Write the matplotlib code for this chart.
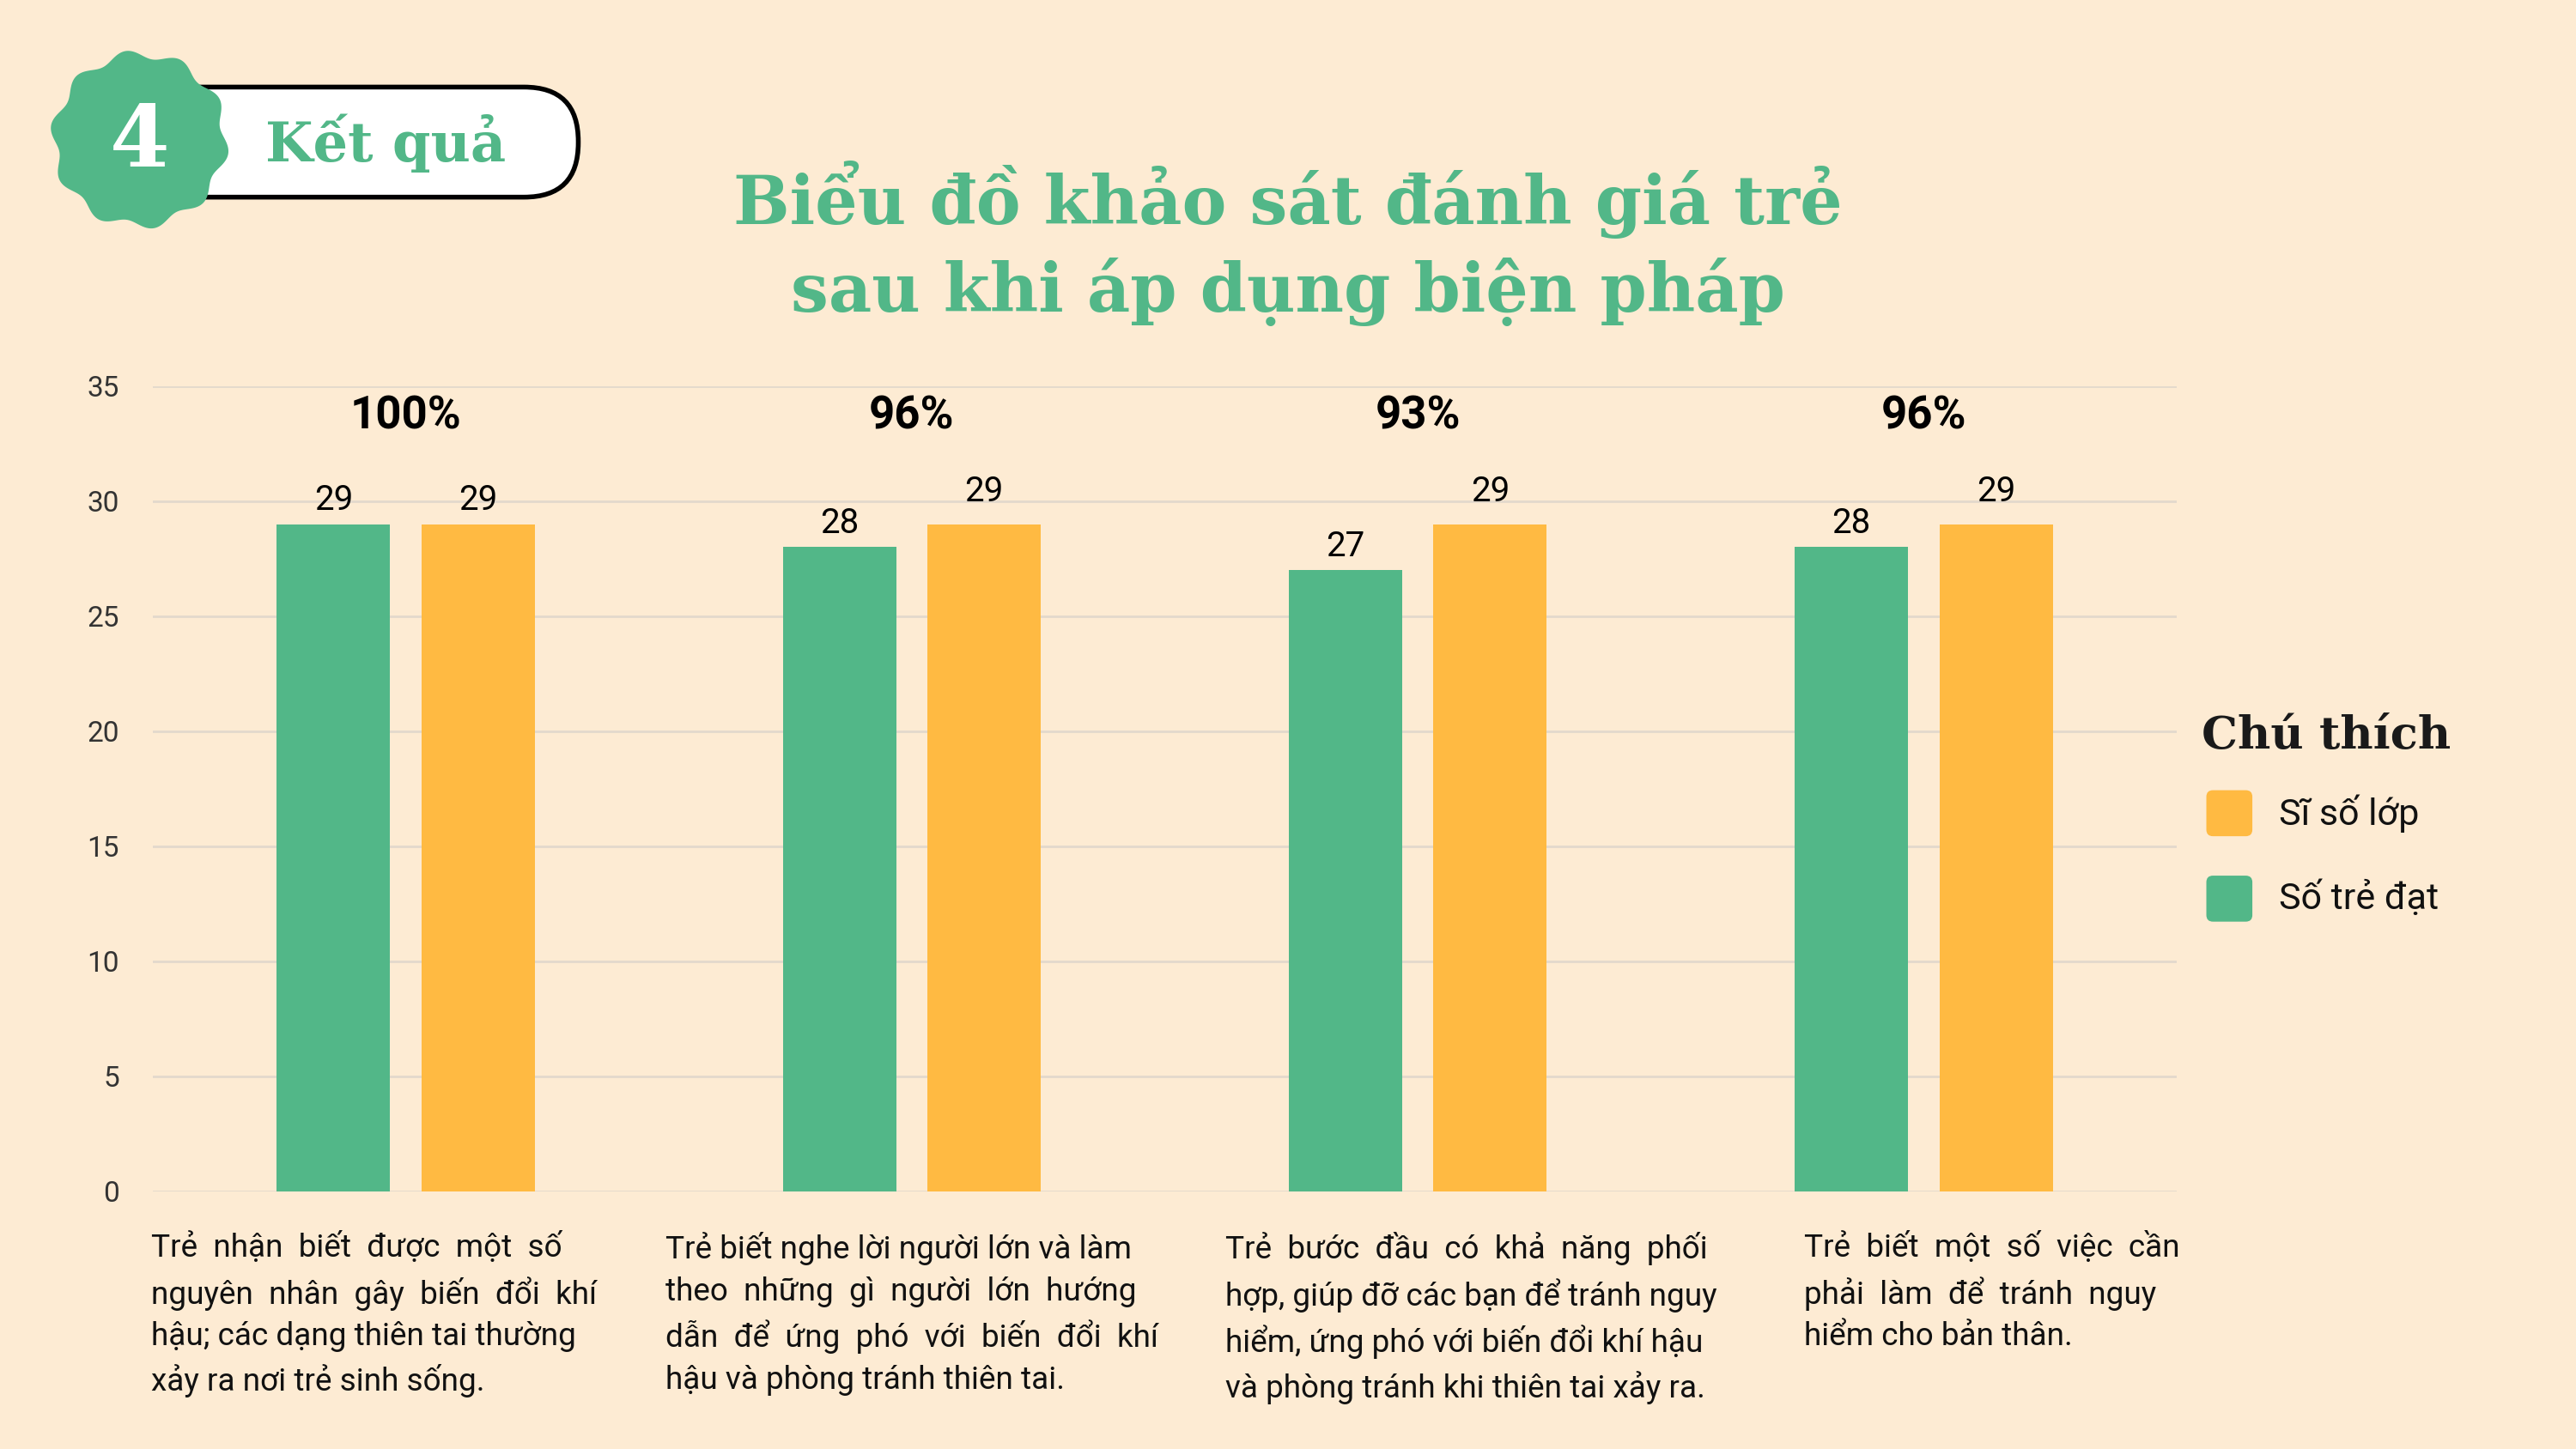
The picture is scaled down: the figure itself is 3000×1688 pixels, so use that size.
import numpy as np
import matplotlib
matplotlib.use("Agg")
import matplotlib.pyplot as plt
from matplotlib.patches import FancyBboxPatch, Polygon

categories = [
    "Trẻ  nhận  biết  được  một  số\nnguyên  nhân  gây  biến  đổi  khí\nhậu; các dạng thiên tai thường\nxảy ra nơi trẻ sinh sống.",
    "Trẻ biết nghe lời người lớn và làm\ntheo  những  gì  người  lớn  hướng\ndẫn  để  ứng  phó  với  biến  đổi  khí\nhậu và phòng tránh thiên tai.",
    "Trẻ  bước  đầu  có  khả  năng  phối\nhợp, giúp đỡ các bạn để tránh nguy\nhiểm, ứng phó với biến đổi khí hậu\nvà phòng tránh khi thiên tai xảy ra.",
    "Trẻ  biết  một  số  việc  cần\nphải  làm  để  tránh  nguy\nhiểm cho bản thân.",
]
so_tre_dat = [29, 28, 27, 28]
si_so_lop = [29, 29, 29, 29]
percent_labels = ["100%", "96%", "93%", "96%"]
yticks = [0, 5, 10, 15, 20, 25, 30, 35]

GREEN = "#52b788"
ORANGE = "#ffba42"
BG = "#fdebd3"
W, H = 1568, 882

fig = plt.figure(figsize=(15, 8.44), dpi=200, facecolor=BG)
def fx(x): return x / W
def fy(y): return 1 - y / H

ax = fig.add_axes([fx(93), fy(725), fx(1325) - fx(93), fy(235) - fy(725)])
ax.set_facecolor(BG)
x = np.arange(len(categories))
bw, off = 0.224, 0.143
ax.bar(x - off, so_tre_dat, bw, color=GREEN, zorder=3)
ax.bar(x + off, si_so_lop, bw, color=ORANGE, zorder=3)
for i in range(len(x)):
    ax.text(x[i] - off, so_tre_dat[i] + 0.3, str(so_tre_dat[i]), ha="center", va="bottom", fontsize=14.5, family="Roboto")
    ax.text(x[i] + off, si_so_lop[i] + 0.3 + (0.4 if so_tre_dat[i] != si_so_lop[i] else 0), str(si_so_lop[i]),
            ha="center", va="bottom", fontsize=14.5, family="Roboto")
    ax.text(x[i], 33.7, percent_labels[i], ha="center", va="center", fontsize=19, fontweight="bold", family="Roboto")
ax.set_xlim(-0.5, 3.5)
ax.set_ylim(0, 35)
ax.set_yticks(yticks)
ax.set_yticklabels([str(t) for t in yticks], fontsize=12, family="Roboto", color="#333333")
ax.tick_params(axis="y", length=0, pad=14)
ax.set_xticks([])
ax.grid(axis="y", color="#e3d9cc", lw=1, zorder=0)
for s in ax.spines.values():
    s.set_visible(False)

desc_x = [92, 405, 746, 1098]
for i, c in enumerate(categories):
    fig.text(fx(desc_x[i]), fy(750), c, ha="left", va="top", fontsize=13.3, family="Roboto",
             linespacing=1.45, color="#111111")

fig.text(fx(784), fy(148), "Biểu đồ khảo sát đánh giá trẻ\nsau khi áp dụng biện pháp", ha="center", va="center",
         fontsize=28, fontweight="bold", family="DejaVu Serif", color=GREEN, linespacing=1.35)

bax = fig.add_axes([0, 0, 1, 1], facecolor="none")
bax.set_xlim(0, W); bax.set_ylim(H, 0); bax.axis("off")
bax.add_patch(FancyBboxPatch((90, 53), 262, 67, boxstyle="round,pad=0,rounding_size=33",
                             fc="white", ec="black", lw=2))
th = np.linspace(0, 2 * np.pi, 400)
r = 52 * (1 + 0.05 * np.sin(10 * th))
bax.add_patch(Polygon(np.c_[85 + r * np.cos(th), 85 + r * np.sin(th)], fc=GREEN, ec="none"))
bax.text(85, 87, "4", ha="center", va="center", fontsize=36, fontweight="bold", color="white", family="DejaVu Serif")
bax.text(235, 87, "Kết quả", ha="center", va="center", fontsize=23, fontweight="bold", color=GREEN, family="DejaVu Serif")

bax.text(1340, 448, "Chú thích", ha="left", va="center", fontsize=19, fontweight="bold", color="#1a1a1a", family="DejaVu Serif")
bax.add_patch(FancyBboxPatch((1343, 481), 28, 28, boxstyle="round,pad=0,rounding_size=4", fc=ORANGE, ec="none"))
bax.add_patch(FancyBboxPatch((1343, 533), 28, 28, boxstyle="round,pad=0,rounding_size=4", fc=GREEN, ec="none"))
bax.text(1387, 495, "Sĩ số lớp", ha="left", va="center", fontsize=15.5, family="Roboto", color="#111111")
bax.text(1387, 547, "Số trẻ đạt", ha="left", va="center", fontsize=15.5, family="Roboto", color="#111111")

fig.savefig("out.png", dpi=200, facecolor=BG)
